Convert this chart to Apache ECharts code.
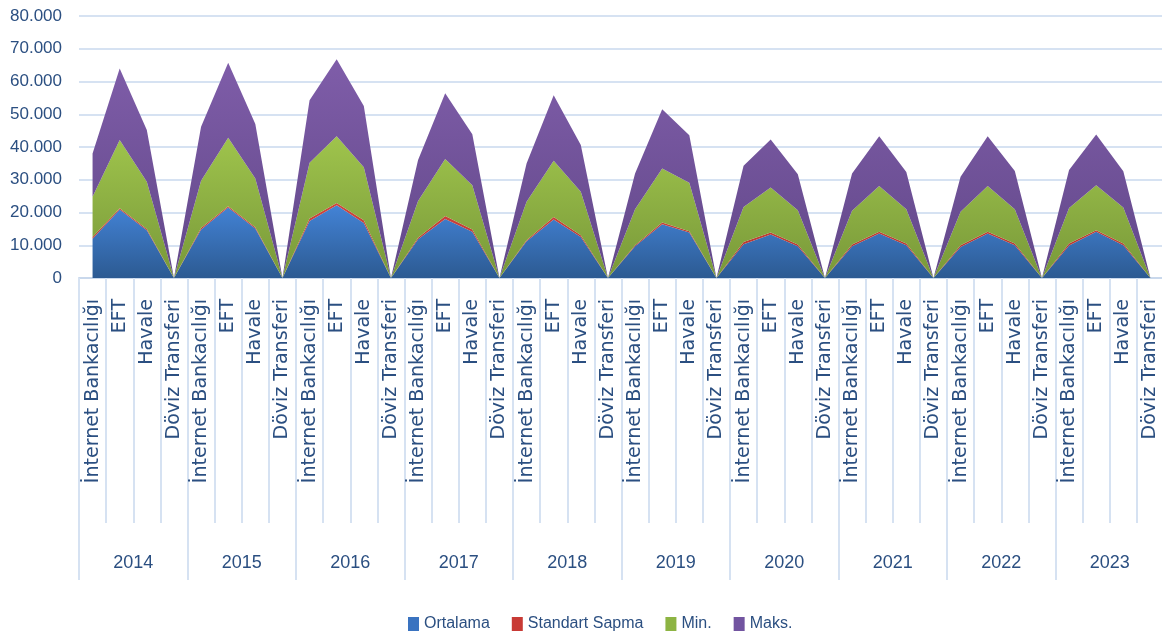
<!DOCTYPE html>
<html>
<head>
<meta charset="utf-8">
<script src="https://cdn.jsdelivr.net/npm/echarts@6/dist/echarts.min.js"></script>
<style>
html,body{margin:0;padding:0;background:#fff;}
#chart{width:1162px;height:641px;}
</style>
</head>
<body>
<div id="chart"></div>
<script>
const years = ['2014','2015','2016','2017','2018','2019','2020','2021','2022','2023'];
const channels = ['İnternet Bankacılığı','EFT','Havale','Döviz Transferi'];
const categories = [];
years.forEach(() => channels.forEach(c => categories.push(c)));

// stacked series values, per year: İnternet Bankacılığı, EFT, Havale, Döviz Transferi
const ortalama = [
  12000, 20900, 14600, 0,
  14800, 21500, 15100, 0,
  17400, 22200, 16800, 0,
  11800, 18000, 14100, 0,
  11200, 17850, 12550, 0,
  9700, 16400, 13900, 0,
  10300, 13300, 9700, 0,
  9700, 13600, 10000, 0,
  9500, 13600, 10000, 0,
  9900, 14100, 10000, 0
];
const standartSapma = [
  500, 400, 400, 0,
  500, 400, 400, 0,
  800, 700, 800, 0,
  500, 900, 700, 0,
  300, 800, 500, 0,
  300, 550, 400, 0,
  700, 600, 500, 0,
  500, 500, 500, 0,
  500, 500, 500, 0,
  600, 500, 500, 0
];
const minVals = [
  12300, 20800, 14400, 0,
  14400, 20900, 14900, 0,
  17000, 20400, 16200, 0,
  11200, 17400, 13550, 0,
  11750, 17150, 13250, 0,
  11000, 16500, 14750, 0,
  10700, 13750, 10500, 0,
  10300, 14000, 10500, 0,
  10200, 14000, 10500, 0,
  10900, 13750, 11000, 0
];
const maksVals = [
  13200, 21900, 15800, 0,
  16500, 22950, 16600, 0,
  19100, 23500, 18700, 0,
  12500, 20100, 15550, 0,
  11750, 20000, 14300, 0,
  10900, 18050, 14550, 0,
  12550, 14650, 11000, 0,
  11400, 15200, 11400, 0,
  10700, 15200, 11700, 0,
  11550, 15500, 11100, 0
];
const seriesNames = ['Ortalama','Standart Sapma','Min.','Maks.'];

const txt = '#2b4f81';
const sansFont = '"Liberation Sans", Arial, sans-serif';
function grad(top, bottom){
  return new echarts.graphic.LinearGradient(0,0,0,1,[{offset:0,color:top},{offset:1,color:bottom}]);
}
const fills = [
  ['#4383d6','#2c5a92'],
  ['#d2453e','#a8302b'],
  ['#9fc44c','#789839'],
  ['#7f5da9','#624889']
];
const legendColors = ['#3a73c0','#c83a35','#8db443','#7254a0'];
const dataSets = [ortalama, standartSapma, minVals, maksVals];

const chart = echarts.init(document.getElementById('chart'), null, {renderer:'canvas'});
chart.setOption({
  backgroundColor:'#ffffff',
  animation:false,
  color: legendColors,
  grid:{left:79, right:-2, top:16, bottom:363, containLabel:false, outerBoundsMode:'none'},
  legend:{
    left:403, top:611, itemWidth:11, itemHeight:14, itemGap:22, icon:'rect',
    textStyle:{fontFamily:sansFont, fontSize:16, color:txt},
    data: seriesNames.map((n,i)=>({name:n, itemStyle:{color:legendColors[i]}}))
  },
  xAxis:[
    {
      type:'category', data:categories, boundaryGap:true, position:'bottom',
      axisLine:{show:true, lineStyle:{color:'#c9d8ec', width:2}},
      axisTick:{show:true, interval:0, length:245, lineStyle:{color:'#d6e2f2', width:2}},
      axisLabel:{interval:0, rotate:90, margin:21, fontFamily:'"DejaVu Sans", sans-serif', fontSize:19, color:txt},
      splitLine:{show:false}
    },
    {
      type:'category', data:years, boundaryGap:true, position:'bottom',
      axisLine:{show:false},
      axisTick:{show:true, interval:0, length:302, lineStyle:{color:'#d6e2f2', width:2}},
      axisLabel:{interval:0, margin:276, fontFamily:sansFont, fontSize:18, color:txt},
      splitLine:{show:false}
    }
  ],
  yAxis:{
    type:'value', min:0, max:80000, interval:10000,
    axisLine:{show:false}, axisTick:{show:false},
    axisLabel:{margin:17, fontFamily:sansFont, fontSize:17, color:txt,
      formatter: v => String(v).replace(/\B(?=(\d{3})+(?!\d))/g,'.')},
    splitLine:{show:true, lineStyle:{color:'#d6e2f2', width:2}}
  },
  series: seriesNames.map((n,i)=>({
    name:n, type:'line', stack:'total', xAxisIndex:0, data:dataSets[i],
    symbol:'none', showSymbol:false, smooth:false,
    lineStyle:{width:0},
    itemStyle:{color:legendColors[i]},
    areaStyle:{color:grad(fills[i][0], fills[i][1]), opacity:1}
  }))
});
</script>
</body>
</html>
